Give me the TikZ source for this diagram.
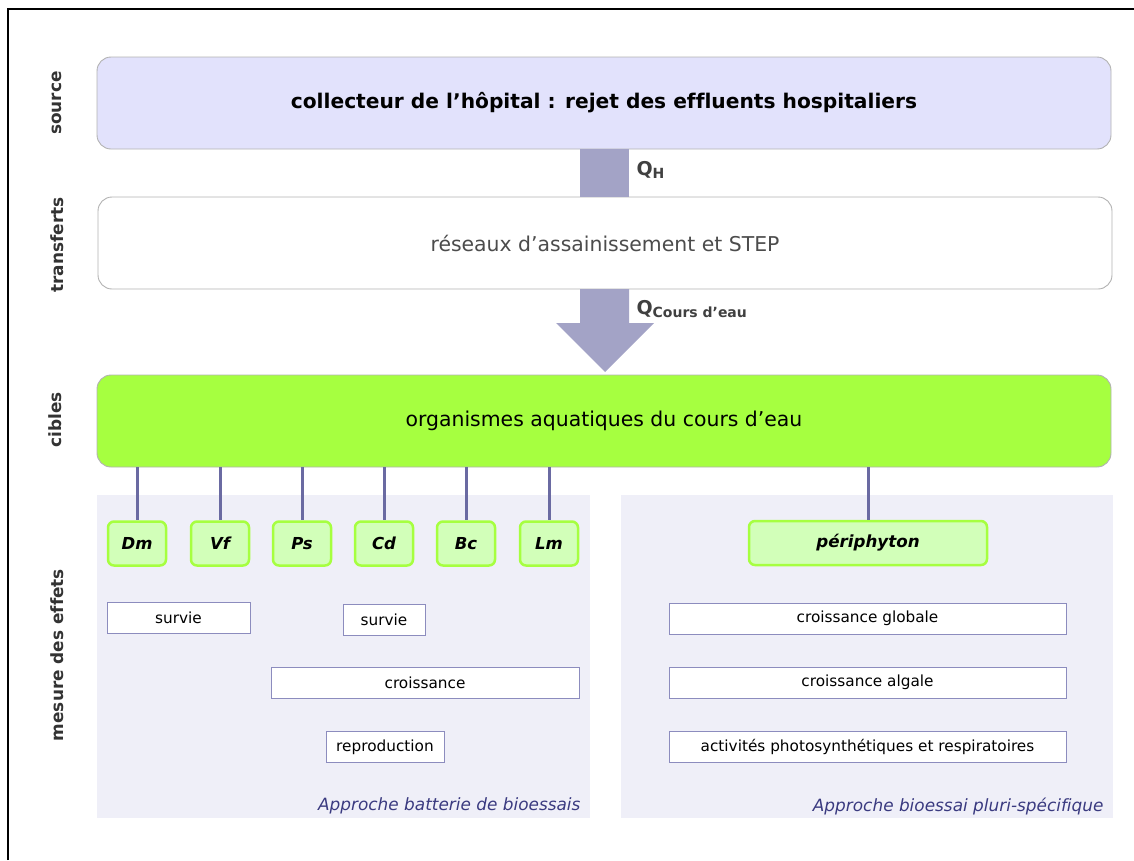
\documentclass[tikz,border=0pt]{standalone}
\usepackage{fontspec}
\setmainfont{DejaVu Sans}[Ligatures=NoCommon]
\definecolor{lavande}{HTML}{E2E2FC}
\definecolor{vertvif}{HTML}{A6FF40}
\definecolor{vertpale}{HTML}{D2FFB9}
\definecolor{fondgris}{HTML}{EFEFF8}
\definecolor{flechegris}{HTML}{A3A3C6}
\definecolor{lienbleu}{HTML}{6A6AA2}
\definecolor{bordbleu}{HTML}{8C8CBE}
\definecolor{textebleu}{HTML}{3A3A80}
\newcommand{\taille}[1]{\fontsize{#1}{#1}\selectfont}
\tikzset{
  etage/.style={draw=black!30,line width=0.9pt,rounded corners=14pt,minimum width=1014pt,minimum height=92pt,inner sep=0pt},
  espece/.style={draw=vertvif,line width=2.5pt,fill=vertpale,rounded corners=6pt,minimum width=58pt,minimum height=44pt,inner sep=0pt,font=\taille{16.5}\bfseries\itshape},
  effet/.style={draw=bordbleu,fill=white,line width=0.9pt,minimum height=31pt,inner sep=0pt,font=\taille{15.3}},
  cote/.style={rotate=90,font=\taille{16.9}\bfseries,text=black!80},
  lien/.style={draw=lienbleu,line width=3pt},
  approche/.style={anchor=east,font=\taille{16.9}\itshape,text=textebleu}
}
\begin{document}
\begin{tikzpicture}[x=1pt,y=-1pt]
  \useasboundingbox (0,0) rectangle (1134,860);
  \draw[line width=1.5pt] (8,860) -- (8,9) -- (1134,9);

  \node[cote] (lsource) at (57,103) {source};
  \node[cote] (ltransferts) at (57,245) {transferts};
  \node[cote] (lcibles) at (55,420) {cibles};
  \node[cote] (leffets) at (57,655) {mesure des effets};

  \node[etage,fill=lavande,font=\taille{20.2}\bfseries] (source) at (604,103) {collecteur de l’hôpital : rejet des effluents hospitaliers};
  \node[etage,fill=white,text=black!70,font=\taille{20.4}] (transferts) at (605,243) {réseaux d’assainissement et STEP};
  \node[etage,fill=vertvif,font=\taille{20.4}] (cibles) at (604,421) {organismes aquatiques du cours d’eau};

  \fill[flechegris] (580,149) rectangle (629,197);
  \fill[flechegris] (580,289) -- (629,289) -- (629,323) -- (654,323) -- (605,372) -- (556,323) -- (580,323) -- cycle;
  \node[anchor=west,text=black!75,font=\taille{19}\bfseries] (qh) at (633,170) {Q\raisebox{-3pt}{\taille{14}H}};
  \node[anchor=west,text=black!75,font=\taille{19}\bfseries] (qce) at (633,309) {Q\raisebox{-3pt}{\taille{14}Cours d’eau}};

  \fill[fondgris] (97,495) rectangle (590,818);
  \fill[fondgris] (621,495) rectangle (1113,818);

  \foreach \n/\x in {Dm/137,Vf/220,Ps/302,Cd/384,Bc/466,Lm/549} {
    \node[espece] (\n) at (\x,543.5) {\n};
    \draw[lien] (cibles.south -| \n.north) -- (\n.north);
  }
  \node[espece,minimum width=238pt,font=\taille{16.7}\bfseries\itshape] (periphyton) at (868,543) {périphyton};
  \draw[lien] (cibles.south -| periphyton.north) -- (periphyton.north);

  \node[effet,minimum width=143pt] (survieA) at (178.5,617.5) {survie};
  \node[effet,minimum width=82pt] (survieB) at (384,620) {survie};
  \node[effet,minimum width=308pt] (croissance) at (425,682.5) {croissance};
  \node[effet,minimum width=118pt] (reproduction) at (385,747) {reproduction};

  \node[effet,minimum width=397pt] (globale) at (867.5,618.5) {croissance globale};
  \node[effet,minimum width=397pt] (algale) at (867.5,682.5) {croissance algale};
  \node[effet,minimum width=397pt] (activites) at (867.5,746.5) {activités photosynthétiques et respiratoires};

  \node[approche] (batterie) at (584,806) {Approche batterie de bioessais};
  \node[approche] (pluri) at (1107,806) {Approche bioessai pluri-spécifique};
\end{tikzpicture}
\end{document}
